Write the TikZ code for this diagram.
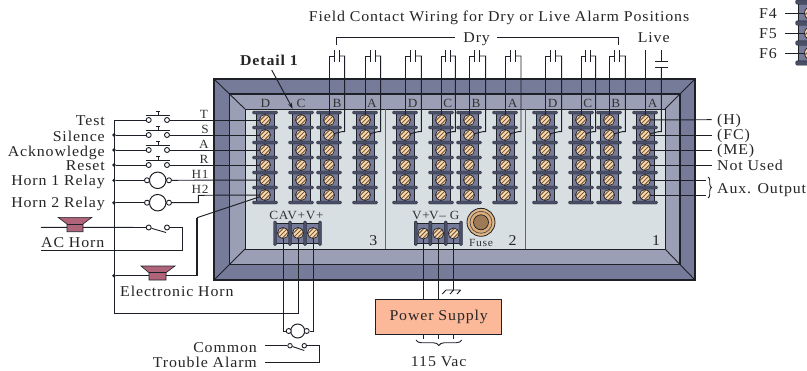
\documentclass[tikz,border=0pt]{standalone}
\usepackage{fontspec}
\setmainfont[FakeStretch=1.06,LetterSpace=5.8]{Liberation Serif}
\usetikzlibrary{arrows.meta,decorations.pathreplacing}
\pgfdeclarelayer{back}\pgfdeclarelayer{wirel}
\pgfsetlayers{back,wirel,main}
\definecolor{frdark}{HTML}{767B99}
\definecolor{frmid}{HTML}{9B9FB5}
\definecolor{panelc}{HTML}{D8DFE2}
\definecolor{linec}{HTML}{1E2028}
\definecolor{barc}{HTML}{4A4F68}
\definecolor{tanc}{HTML}{FADBB0}
\definecolor{hatchc}{HTML}{7A5C42}
\definecolor{hornc}{HTML}{B0647A}
\definecolor{psc}{HTML}{FBB99A}
\tikzset{
 x=1pt,y=-1pt,
 txt/.style={font=\fontsize{15}{16}\selectfont,text=black!85,inner sep=0pt,anchor=base},
 txtr/.style={txt,anchor=base east},
 txtl/.style={txt,anchor=base west},
 sm/.style={font=\fontsize{12.5}{13}\selectfont,text=black!80,inner sep=0pt,anchor=base},
 wire/.style={draw=linec,line width=.95pt},
 screw/.style={circle,draw=linec,line width=.7pt,fill=tanc,minimum size=11pt,inner sep=0pt,
  path picture={\foreach \d in {-4.4,0,4.4}{\draw[hatchc,line width=1pt]
   ([xshift=\d pt-7pt,yshift=-7pt]path picture bounding box.center)--([xshift=\d pt+7pt,yshift=7pt]path picture bounding box.center);}}},
 contact/.style={circle,draw=linec,fill=white,line width=.9pt,minimum size=5pt,inner sep=0pt},
 relay/.style={circle,draw=linec,fill=white,line width=1pt,minimum size=16.5pt,inner sep=0pt},
 dotn/.style={circle,fill=linec,minimum size=3.6pt,inner sep=0pt},
 barh/.style={draw=linec,fill=barc,line width=.4pt,rounded corners=1.2pt},
 bodyc/.style={draw=linec,fill=frdark,line width=.7pt},
 hornf/.style={draw=linec,fill=hornc,line width=.6pt},
}
\begin{document}
\begin{tikzpicture}
\useasboundingbox (0,0) rectangle (807,370);
\clip (0,0) rectangle (807,370);
\begin{pgfonlayer}{back}
 \fill[white] (0,0) rectangle (807,370);
 \draw[draw=linec,fill=frdark,line width=1.1pt] (214,79) rectangle (695,280);
 \draw[draw=linec,fill=frmid,line width=1.1pt] (229.5,94) rectangle (680,264.5);
 \draw[draw=linec,fill=panelc,line width=.8pt] (245,109) rectangle (665,249);
 \draw[linec,line width=.9pt] (214,79)--(245,109) (695,79)--(665,109) (214,280)--(245,249) (695,280)--(665,249);
 \draw[black!60,line width=1pt] (385,109)--(385,249) (525,109)--(525,249);
 % terminal strips
 \foreach \c/\x in {1/265,2/301,3/329,4/365,5/405,6/441,7/469,8/505,9/545,10/581,11/609,12/645}{
  \draw[bodyc] (\x-9,112)rectangle(\x+9,203);
  \foreach \y in {112.5,127.5,142.5,157.5,172.5,187.5,202.5}{
   \draw[barh] (\x-12.5,\y-1.5) rectangle (\x+12.5,\y+1.5);}
 }
 % small blocks
 \draw[bodyc] (275,223) rectangle (320,243.5);
 \foreach \x in {275,290,305,320}{\draw[barh] (\x-1.5,221) rectangle (\x+1.5,245.5);}
 \draw[bodyc] (415.7,223) rectangle (461,243.5);
 \foreach \x in {415.7,430.3,445.7,461}{\draw[barh] (\x-1.5,221) rectangle (\x+1.5,245.5);}
 % top right fragment
 \draw[bodyc] (798,2) rectangle (830,64);
 \foreach \y in {2,23,43,63}{\draw[barh] (795.7,\y-2.2) rectangle (830,\y+2.2);}
\end{pgfonlayer}

% terminal screws
\foreach \c/\x in {1/265,2/301,3/329,4/365,5/405,6/441,7/469,8/505,9/545,10/581,11/609,12/645}{
 \foreach \r/\y in {1/120,2/135,3/150,4/165,5/180,6/195}{
  \node[screw] (t\c r\r) at (\x,\y) {};
 }
}
\node[screw] (cA) at (283,233) {};
\node[screw] (cB) at (298,233) {};
\node[screw] (cC) at (313,233) {};
\node[screw] (pA) at (423.3,233.5) {};
\node[screw] (pB) at (438.3,233.5) {};
\node[screw] (pC) at (453.7,233.5) {};
\node[screw,minimum size=13pt] (f4) at (811,13.3) {};
\node[screw,minimum size=13pt] (f5) at (811,33.3) {};
\node[screw,minimum size=13pt] (f6) at (811,53.3) {};

% fuse
\node[circle,draw=linec,fill=tanc!60!brown,line width=.8pt,minimum size=28pt,inner sep=0pt] (fuse) at (481,222.3) {};
\node[circle,draw=linec!80,fill=tanc!50!brown,line width=.7pt,minimum size=22pt,inner sep=0pt] (fuseb) at (481,222.3) {};
\node[circle,draw=linec,fill=brown!70!black!80,line width=.7pt,minimum size=15pt,inner sep=0pt] (fusec) at (481,222.3) {};

% labels on panel
\foreach \t/\x in {D/265.5,C/301,B/337,A/372,D/412.7,C/447.7,B/476,A/512.7,D/552.7,C/587.7,B/615.7,A/652.7}{
 \node[sm] at (\x,107) {\t};
}
\node[sm] (lca) at (296.5,219.3) {CAV+V+};
\node[sm] (lv1) at (421,219) {V+};
\node[sm] (lv2) at (437.5,219) {V–};
\node[sm] (lg) at (454.7,219) {G};
\node[sm,font=\fontsize{11}{12}\selectfont] (lfuse) at (481,246) {Fuse};
\node[txt] (n3) at (373.3,245) {3};
\node[txt] (n2) at (512.7,245) {2};
\node[txt] (n1) at (656,245) {1};

% left switches
\foreach \n/\y in {1/120,2/135,3/150,4/165}{
 \node[contact] (sl\n) at (148.7,\y) {};
 \node[contact] (sr\n) at (167,\y) {};
 \draw[linec,line width=1pt] (145.7,\y-5)--(169.7,\y-5) (158,\y-5)--(158,\y-8.3) (156,\y-8.3)--(160,\y-8.3);
}
\node[relay] (h1) at (157.7,180.3) {};
\node[contact] (h1l) at (147,180.3) {};
\node[contact] (h1r) at (169,180.3) {};
\node[relay] (h2) at (157.7,202.7) {};
\node[contact] (h2l) at (147,202.7) {};
\node[contact] (h2r) at (169,202.7) {};

% bus and dots
\coordinate (busT) at (114,120);
\coordinate (busB) at (114,313.7);
\node[dotn] (d2) at (114,135) {};
\node[dotn] (d3) at (114,150) {};
\node[dotn] (d4) at (114,165) {};
\node[dotn] (d5) at (114,180.3) {};
\node[dotn] (d6) at (114,202.7) {};
\node[dotn] (d7) at (114,275.7) {};

% AC horn
\node[contact] (al) at (148.7,227.5) {};
\node[contact] (ar) at (167,227.5) {};
\coordinate (acL1) at (41,227.3);
\coordinate (acL2) at (41,250.7);
\draw[hornf] (58,217.3)--(92,217.3)--(83,224)--(83,231.7)--(67,231.7)--(67,224)--cycle;
\draw[linec,line width=.8pt] (67,224)--(83,224);
% Electronic horn
\draw[hornf] (141,266)--(175,266)--(166,272.7)--(166,280)--(149,280)--(149,272.7)--cycle;
\draw[linec,line width=.8pt] (149,272.7)--(166,272.7);
% trouble relay and switch
\node[relay,minimum size=14pt] (tr) at (297.7,331) {};
\node[contact] (trl) at (288.7,331) {};
\node[contact] (trr) at (306.7,331) {};
\node[contact,minimum size=4.5pt] (cl) at (290,345.7) {};
\node[contact,minimum size=4.5pt] (cr) at (304.3,345.7) {};
\coordinate (cmL) at (265,345.7);
\coordinate (taL) at (265,362.7);

% power supply
\node[draw=linec,fill=psc,line width=1pt,minimum width=126pt,minimum height=34.7pt,inner sep=0pt] (ps) at (438.7,316.7) {};
\node[txt] (pstxt) at (438.7,320.7) {Power Supply};
\coordinate (gnd) at (453.7,290);

\begin{pgfonlayer}{wirel}
 \draw[wire] (busT)--(busB)--(298,313.7)--(cB.center);
 \draw[wire] (busT)--(sl1);
 \draw[wire] (sr1)--(t1r1.center);
 \foreach \n in {2,3,4}{
  \draw[wire] (d\n)--(sl\n);
  \draw[wire] (sr\n)--(t1r\n.center);
 }
 \draw[wire] (d5)--(h1l);
 \draw[wire] (h1r)--(t1r5.center);
 \draw[wire] (d6)--(h2l);
 \draw[wire] (h2r)--(198.3,202.7)--(198.3,195.3)--(t1r6.center);
 \draw[wire] (acL1)--(al);
 \draw[wire,line width=.9pt] (al)--(166,232.5);
 \draw[wire] (ar)--(182.5,227.5)--(182.5,250.7)--(acL2);
 \draw[wire] (d7)--(197,275.7);
 \draw[wire,line width=1.4pt] (197,275.7)--(197,217.7);
 \draw[wire] (197,217.7)--(t1r6.center);
 % contacts on top
 \foreach \c/\l/\r in {3/329/344.7,4/365/380.7,5/405/421.3,6/441/455.3,7/469/485.7,8/505/521,9/545/561.7,10/581/595.7,11/609/625.3}{
  \pgfmathsetmacro\ma{(\l+\r)/2-2.5}
  \pgfmathsetmacro\mb{(\l+\r)/2+2.5}
  \draw[wire] (t\c r1.center)--(\l,56)--(\ma,56);
  \draw[wire] (\ma,50)--(\ma,62);
  \draw[wire] (\mb,50)--(\mb,62);
  \draw[wire] (\mb,56)--(\r,56)--(\r,131.7)--(\r-3,131.7)--(t\c r2.center);
 }
 % live
 \draw[wire] (t12r1.center)--(645,50);
 \draw[wire] (t12r2.center)--(658.3,131.7)--(661.3,131.7)--(661.3,67);
 \draw[wire] (661.3,61)--(661.3,50);
 \draw[wire] (655.3,61)--(668,61) (655.3,67)--(668,67);
 % right side
 \foreach \r/\y in {1/119.7,2/135,3/150,4/165}{
  \draw[wire] (t12r\r.center)--(711.7,\y);
 }
 \draw[wire] (t12r5.center)--(705.7,180);
 \draw[wire] (t12r6.center)--(705.7,195);
 % dry bracket
 \draw[wire,line width=.9pt] (336.7,44.7)--(336.7,37.3)--(455,37.3);
 \draw[wire,line width=.9pt] (497,37.3)--(618.3,37.3)--(618.3,44.7);
 % trouble
 \draw[wire] (cA.center)--(283,331)--(trl);
 \draw[wire] (cC.center)--(313,331)--(trr);
 \draw[wire] (cmL)--(cl);
 \draw[wire,line width=.9pt] (cl)--(304.3,350.5);
 \draw[wire] (cr)--(319,345.7)--(319,362.7)--(taL);
 % power
 \draw[wire] (pA.center)--(ps.north -| pA);
 \draw[wire] (pB.center)--(ps.north -| pB);
 \draw[wire] (pC.center)--(gnd);
 \draw[wire,line width=.9pt] (446,290)--(460.7,290) (446,290)--(442.3,294) (453.7,290)--(450,294) (460.7,290)--(457,294);
 \draw[wire,line width=.9pt] (ps.south -| pA)--(423.3,338.5) (ps.south -| pB)--(438.3,338.5) (ps.south -| pC)--(453.7,338.5);
 \draw[linec,line width=.9pt,decorate,decoration={brace,amplitude=5.5pt}] (461.7,340)--(416,340);
 \draw[linec,line width=.9pt,decorate,decoration={brace,amplitude=3.5pt}] (708,177)--(708,198);
 % F wires
 \draw[wire] (785,13.3)--(f4.center) (785,33.3)--(f5.center) (785,53.3)--(f6.center);
 % detail arrow
 \draw[wire,-{Stealth[length=6pt,width=4pt]}] (271.7,70)--(292.7,108.7);
\end{pgfonlayer}

% texts
\node[txt] (title) at (499,21) {Field Contact Wiring for Dry or Live Alarm Positions};
\node[txt] (dry) at (476.7,42.7) {Dry};
\node[txt] (live) at (653.7,42.7) {Live};
\node[txt,font=\fontsize{15}{16}\selectfont\bfseries] (det) at (269,65) {Detail 1};
\node[txtr] (l1) at (105,125.7) {Test};
\node[txtr] (l2) at (105,141) {Silence};
\node[txtr] (l3) at (105,156) {Acknowledge};
\node[txtr] (l4) at (105,170.7) {Reset};
\node[txtr] (l5) at (105,185.7) {Horn 1 Relay};
\node[txtr] (l6) at (105,207.3) {Horn 2 Relay};
\node[sm] (lt) at (204,118) {T};
\node[sm] (ls) at (205,133) {S};
\node[sm] (la) at (204,148) {A};
\node[sm] (lr) at (204,163) {R};
\node[sm] (lh1) at (200,178) {H1};
\node[sm] (lh2) at (200,193) {H2};
\node[txtl] (achorn) at (41,247) {AC Horn};
\node[txtl] (ehorn) at (120,296) {Electronic Horn};
\node[txtr] (com) at (257,352.3) {Common};
\node[txtr] (tal) at (257,367.7) {Trouble Alarm};
\node[txt] (vac) at (438.7,366.7) {115 Vac};
\node[txtl] (rh) at (717,124) {(H)};
\node[txtl] (rfc) at (717,139.3) {(FC)};
\node[txtl] (rme) at (717,154.7) {(ME)};
\node[txtl] (rnu) at (717,170.7) {Not Used};
\node[txtl] (rao) at (717,193.3) {Aux. Output};
\node[txt] (lf4) at (768,18.3) {F4};
\node[txt] (lf5) at (768,38.3) {F5};
\node[txt] (lf6) at (768,58.3) {F6};
\end{tikzpicture}
\end{document}
